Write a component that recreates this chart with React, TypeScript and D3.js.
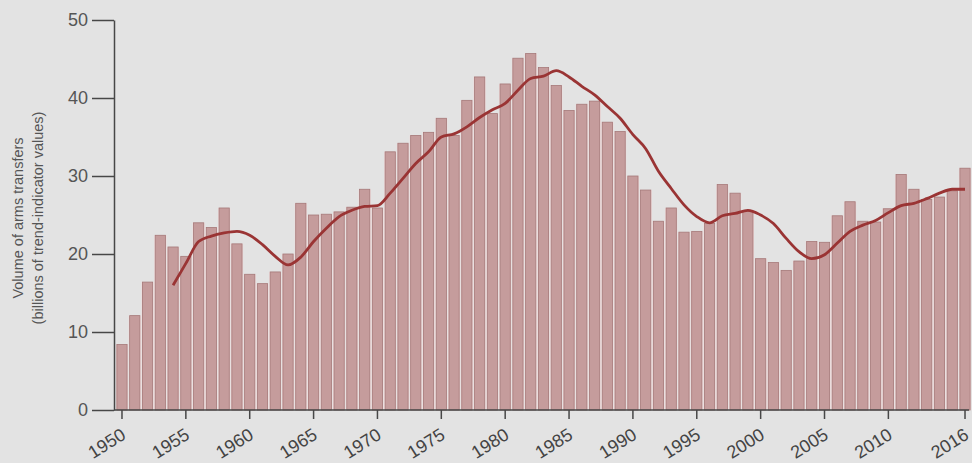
import { useEffect, useRef } from "react";
import * as d3 from "d3";

const years = d3.range(1950, 2017);

const transfers = [
	8.4, 12.1, 16.4, 22.4, 20.9, 19.7, 24.0, 23.4, 25.9, 21.3,
	17.4, 16.2, 17.7, 20.0, 26.5, 25.0, 25.1, 25.4, 26.0, 28.3,
	25.9, 33.1, 34.2, 35.2, 35.6, 37.4, 35.2, 39.7, 42.7, 38.0,
	41.8, 45.1, 45.7, 43.9, 41.6, 38.4, 39.2, 39.6, 36.9, 35.7,
	30.0, 28.2, 24.2, 25.9, 22.8, 22.9, 23.9, 28.9, 27.8, 25.5,
	19.4, 18.9, 17.9, 19.1, 21.6, 21.5, 24.9, 26.7, 24.2, 24.1,
	25.8, 30.2, 28.3, 27.0, 27.3, 28.1, 31.0,
];

// five-year average, plotted from 1954
const trendYears = d3.range(1954, 2017);
const trend = [
	16.0, 18.8, 21.6, 22.3, 22.7, 22.9, 22.4, 21.2, 19.7, 18.6,
	19.6, 21.6, 23.3, 24.8, 25.6, 26.1, 26.2, 27.8, 29.7, 31.6,
	33.1, 35.0, 35.4, 36.3, 37.5, 38.5, 39.3, 41.0, 42.5, 42.8,
	43.5, 42.7, 41.5, 40.4, 38.9, 37.4, 35.3, 33.5, 30.6, 28.4,
	26.3, 24.8, 24.0, 24.9, 25.2, 25.6, 25.0, 23.9, 22.0, 20.3,
	19.4, 19.9, 21.4, 22.9, 23.7, 24.3, 25.3, 26.2, 26.5, 27.1,
	27.8, 28.3, 28.3,
];

const yearTicks = [1950, 1955, 1960, 1965, 1970, 1975, 1980, 1985, 1990, 1995, 2000, 2005, 2010, 2016];
const valueTicks = [0, 10, 20, 30, 40, 50];

export default function App() {
	const containerRef = useRef<HTMLDivElement>(null);

	useEffect(() => {
		if (!containerRef.current) {
			return;
		}

		const width = 972;
		const height = 463;
		const axisColor = "#474747";
		const font = "'Liberation Sans', Arial, sans-serif";

		const svg = d3
			.select(containerRef.current)
			.append("svg")
			.attr("width", width)
			.attr("height", height)
			.style("display", "block");

		svg.append("rect").attr("width", width).attr("height", height).attr("fill", "#e3e3e3");

		const xScale = d3
			.scaleBand<number>()
			.domain(years)
			.range([115.6, 971.4])
			.paddingInner(0.2)
			.paddingOuter(0.1);
		const yScale = d3.scaleLinear().domain([0, 50]).range([410, 20]);

		const bars = svg.append("g");

		bars
			.selectAll("rect.back")
			.data(years)
			.join("rect")
			.attr("class", "back")
			.attr("x", (d) => (xScale(d) ?? 0) - 1)
			.attr("y", (d, i) => yScale(transfers[i]))
			.attr("width", xScale.bandwidth() + 2)
			.attr("height", (d, i) => yScale(0) - yScale(transfers[i]))
			.attr("fill", "#f0dcdc");

		bars
			.selectAll("rect.bar")
			.data(years)
			.join("rect")
			.attr("class", "bar")
			.attr("x", (d) => xScale(d) ?? 0)
			.attr("y", (d, i) => yScale(transfers[i]))
			.attr("width", xScale.bandwidth())
			.attr("height", (d, i) => yScale(0) - yScale(transfers[i]))
			.attr("fill", "#c59c9c")
			.attr("stroke", "#a57979")
			.attr("stroke-width", 0.8);

		const line = d3
			.line<number>()
			.x((d, i) => (xScale(trendYears[i]) ?? 0) + xScale.bandwidth() / 2)
			.y((d) => yScale(d))
			.curve(d3.curveMonotoneX);

		svg
			.append("path")
			.datum(trend)
			.attr("d", line)
			.attr("fill", "none")
			.attr("stroke", "#9a3434")
			.attr("stroke-width", 2.8)
			.attr("stroke-linejoin", "round");

		const yAxis = svg
			.append("g")
			.attr("transform", "translate(114,0)")
			.call(d3.axisLeft(yScale).tickValues(valueTicks).tickSize(22).tickSizeOuter(0).tickPadding(4));

		yAxis.select(".domain").attr("stroke", axisColor).attr("stroke-width", 1.5);
		yAxis.selectAll(".tick line").attr("stroke", axisColor).attr("stroke-width", 1.5);
		yAxis
			.selectAll(".tick text")
			.attr("fill", "#555")
			.attr("font-size", 18)
			.attr("font-family", font);

		const xAxis = svg
			.append("g")
			.attr("transform", "translate(0,410)")
			.call(d3.axisBottom(xScale).tickValues(yearTicks).tickSize(9).tickSizeOuter(0));

		xAxis
			.select(".domain")
			.attr("d", `M114,0H969`)
			.attr("stroke", axisColor)
			.attr("stroke-width", 1.5);
		xAxis.selectAll(".tick line").attr("stroke", axisColor).attr("stroke-width", 1.5);
		xAxis
			.selectAll(".tick text")
			.attr("fill", "#444")
			.attr("font-size", 18)
			.attr("font-family", font)
			.attr("text-anchor", "end")
			.attr("y", 0)
			.attr("dy", 0)
			.attr("transform", "translate(5,28) rotate(-32)");

		const label = svg
			.append("g")
			.attr("font-family", font)
			.attr("font-size", 14.5)
			.attr("fill", "#555")
			.attr("text-anchor", "middle");

		label
			.append("text")
			.attr("transform", "translate(23,218) rotate(-90)")
			.text("Volume of arms transfers");

		label
			.append("text")
			.attr("transform", "translate(43,218) rotate(-90)")
			.text("(billions of trend-indicator values)");

		return () => {
			svg.remove();
		};
	}, []);

	return (
		<div
			ref={containerRef}
			style={{ position: "fixed", left: 0, top: 0, width: 972, height: 463 }}
		/>
	);
}
